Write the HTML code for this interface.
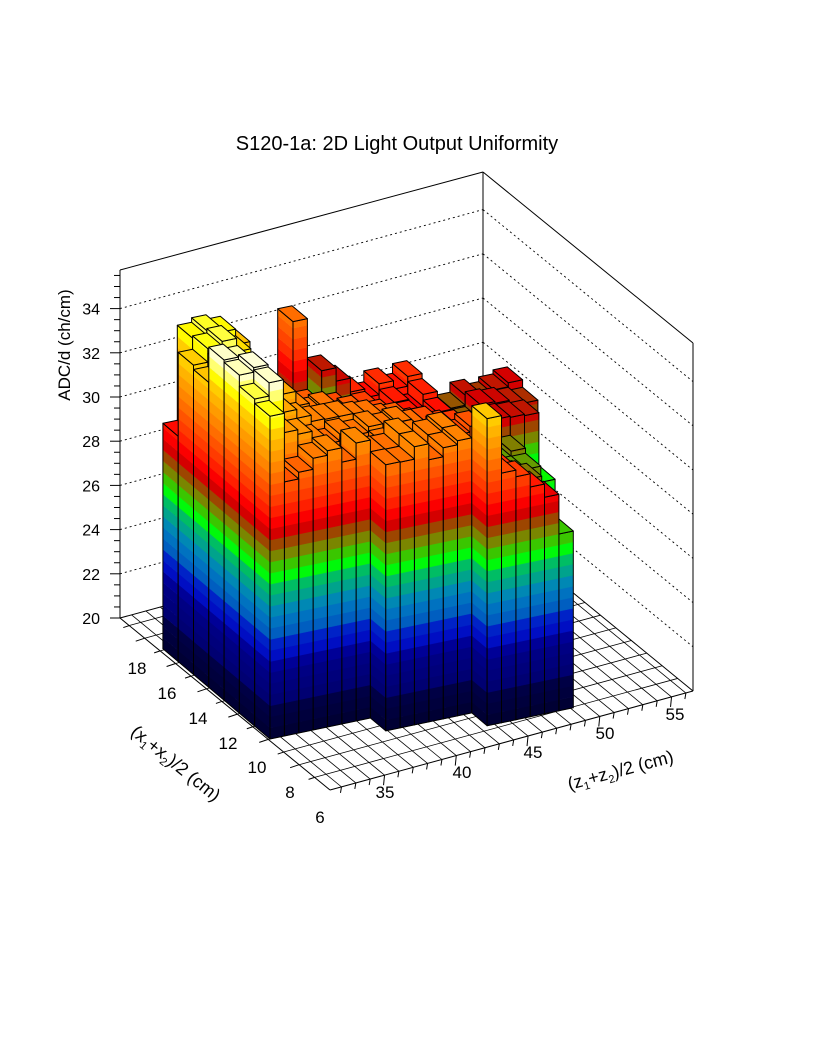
<!DOCTYPE html>
<html><head><meta charset="utf-8"><style>
html,body{margin:0;padding:0;background:#fff;}
svg{display:block;}
text{font-family:"Liberation Sans",sans-serif;fill:#000;}
</style></head><body>
<svg id="s" width="816" height="1056" viewBox="0 0 816 1056" xmlns="http://www.w3.org/2000/svg">
<rect width="816" height="1056" fill="#fff"/>
<g id="floor"></g>
<g id="walls"></g>
<g id="bars"></g>
<g id="axes"></g>
<text x="397" y="150" font-size="20" text-anchor="middle">S120-1a: 2D Light Output Uniformity</text>
<text x="0" y="0" font-size="17" text-anchor="middle" transform="translate(70,345) rotate(-90)">ADC/d (ch/cm)</text>
<text x="0" y="0" font-size="18" text-anchor="middle" transform="translate(172,768) rotate(39)">(x<tspan font-size="11" dy="4">1</tspan><tspan dy="-4">+x</tspan><tspan font-size="11" dy="4">2</tspan><tspan dy="-4">)/2 (cm)</tspan></text>
<text x="0" y="0" font-size="18" text-anchor="middle" transform="translate(622,776) rotate(-15)">(z<tspan font-size="11" dy="4">1</tspan><tspan dy="-4">+z</tspan><tspan font-size="11" dy="4">2</tspan><tspan dy="-4">)/2 (cm)</tspan></text>
</svg>
<script>
(function(){
const NS="http://www.w3.org/2000/svg";
function el(g,tag,attrs){const e=document.createElementNS(NS,tag);for(const k in attrs)e.setAttribute(k,attrs[k]);g.appendChild(e);return e;}
function Pf(z,x){return [330+(z-31.2)*14.35-(x-6)*15.44, 790-(z-31.2)*3.91-(x-6)*12.65];}
const fl=document.getElementById('floor');
for(let z=32;z<=56;z++){const a=Pf(z,6),b=Pf(z,19.6);el(fl,'line',{x1:a[0],y1:a[1],x2:b[0],y2:b[1],stroke:'#000','stroke-width':0.8});}
for(let x=7;x<=19;x++){const a=Pf(31.2,x),b=Pf(56.5,x);el(fl,'line',{x1:a[0],y1:a[1],x2:b[0],y2:b[1],stroke:'#000','stroke-width':0.8});}
const w=document.getElementById('walls');
const L=[120,618],B=[483,519],R=[693,691],F=[330,790];
const dz=22.1;
function ln(g,x1,y1,x2,y2,sw,dash){const a={x1:x1,y1:y1,x2:x2,y2:y2,stroke:'#000','stroke-width':sw||1};if(dash)a['stroke-dasharray']=dash;el(g,'line',a);}
ln(w,120,270,483,172,1);ln(w,483,172,693,343,1);
ln(w,483,172,483,519,1);ln(w,120,270,120,618,1);ln(w,693,343,693,691,1);
ln(w,120,618,483,519,1);ln(w,483,519,693,691,1);
for(let v=22;v<=34;v+=2){const y=618-(v-20)*dz;ln(w,120,y,483,y-99,0.9,'2,3');ln(w,483,y-99,693,y+73,0.9,'2,3');}
const ax=document.getElementById('axes');
for(let v=20;v<=35.5;v+=0.5){const y=618-(v-20)*dz;const maj=Math.abs(v-Math.round(v/2)*2)<1e-6;ln(ax,maj?110:114,y,120,y,1);}
for(let v=20;v<=34;v+=2){const y=618-(v-20)*dz;const t=el(ax,'text',{x:100,y:y+6,'font-size':16,'text-anchor':'end'});t.textContent=v;}
ln(ax,F[0],F[1],R[0],R[1],1);ln(ax,L[0],L[1],F[0],F[1],1);
for(let z=32;z<=56;z++){const p=Pf(z,6);const m=(z%5==0);ln(ax,p[0],p[1],p[0]-1,p[1]+(m?10:6),1);}
for(let x=7;x<=19;x++){const p=Pf(31.2,x);const m=(x%2==0);ln(ax,p[0],p[1],p[0]-(m?9:6),p[1]+(m?3:2),1);}
const zl=[[35,385,798],[40,462,778],[45,533,758],[50,605,739],[55,675,720]];
zl.forEach(a=>{const t=el(ax,'text',{x:a[1],y:a[2],'font-size':17,'text-anchor':'middle'});t.textContent=a[0];});
const xl=[[18,137,674],[16,167,699],[14,198,724],[12,228,749],[10,257,773],[8,290,798],[6,320,823]];
xl.forEach(a=>{const t=el(ax,'text',{x:a[1],y:a[2],'font-size':17,'text-anchor':'middle'});t.textContent=a[0];});

const stops=[[0,'#000030'],[1.4,'#000048'],[1.6,'#000070'],[3.2,'#00008a'],[3.4,'#0000c0'],[4.4,'#0028c8'],[4.6,'#0058c0'],[5.6,'#0080c0'],[6.2,'#00a090'],[6.8,'#00c060'],[7.3,'#00ff00'],[7.8,'#40c000'],[8.3,'#808000'],[8.8,'#a04000'],[9.2,'#d00000'],[9.8,'#ff0000'],[10.5,'#ff3000'],[11.2,'#ff5000'],[11.8,'#ff7000'],[12.5,'#ff9000'],[13.2,'#ffb000'],[13.8,'#ffd000'],[14.3,'#ffff00'],[15,'#ffffb0'],[15.5,'#ffffff']];
function hx(c){return [parseInt(c.substr(1,2),16),parseInt(c.substr(3,2),16),parseInt(c.substr(5,2),16)];}
const st=stops.map(s=>[s[0],hx(s[1])]);
function pal(d){if(d<=st[0][0])return 'rgb('+st[0][1]+')';for(let i=1;i<st.length;i++){if(d<=st[i][0]){const a=st[i-1],b=st[i];const t=(d-a[0])/(b[0]-a[0]);return 'rgb('+[0,1,2].map(k=>Math.round(a[1][k]+(b[1][k]-a[1][k])*t)).join(',')+')';}}return 'rgb('+st[st.length-1][1]+')';}

function Pb(j,r,d){return [300.6+j*14.35-r*15.3, 764.8-j*3.0-r*12.9-d*dz];}
function rmin(j){return j<=6?2:(j<=12?1:0);}
function jmax(r){return r==0?18:Math.floor(19+0.7*(r-1));}
const Ltab=[
 [14.6,14.8,15.3,15.4,13.8,14.0,10.2],
 [11.5,15.4,15.5,15.2,14.4,14.6,14.5],
 [11.8,13.0,14.6,14.2,13.8,14.8,14.7],
 [12.3,12.8,13.2,13.6,13.5,14.2,14.5],
 [12.5,12.4,12.8,13.3,12.8,13.2,13.8]];
function cell(j,r){
 if(r<rmin(j)||j>jmax(r))return null;
 let coff=0,d;
 const n=0.45*Math.sin(j*12.9+r*7.3)+0.25*Math.sin(j*3.1+r*5.7);
 if(j<=4){d=Ltab[j][r-2];}
 else{
  d=12.2-0.09*(j-5)-0.13*r+n;
  if(j<=12&&r>=3&&r<=7)coff=0.6;
  if(r<=2&&j<=12)d=12.2+0.4*Math.sin(j*2.3);
  if(j>=14&&r<=2){d=[11.3,11.0,10.4,9.8,8.0,6.2][j-14]-(r*0.2);}
  if(j==13&&r==0)d=13.9;
  if(j>=17&&r>=2)d=8.6+0.3*Math.sin(j+r);
  if(j==jmax(r)&&r>=2&&r<=5)d=7.6;
  if(j>=20&&r>=6)d=9.3+0.2*Math.sin(j*r);
  if(j==19&&r==1)d=6.2;
  if(j==8&&r==8){d=14.3;coff=-2.3;}
  if(j==10&&r==8){d=11.8;coff=-2.5;}
  if(j==11&&r==8){d=11.2;coff=-1.8;}
 }
 return {d:d,c:coff};
}
const bg=document.getElementById('bars');
function poly(pts,fill,stroke){const a={points:pts.map(p=>p[0].toFixed(1)+','+p[1].toFixed(1)).join(' '),fill:fill};if(stroke){a.stroke='#000';a['stroke-width']=1;a['stroke-linejoin']='round';}else{a.stroke=fill;a['stroke-width']=0.4;}el(bg,'polygon',a);}
function vface(j1,r1,j2,r2,D,c){
 for(let d0=0;d0<D;d0+=0.5){const d1=Math.min(d0+0.5,D);poly([Pb(j1,r1,d0),Pb(j2,r2,d0),Pb(j2,r2,d1),Pb(j1,r1,d1)],pal((d0+d1)/2+(d1>D-3?c:0)),false);}
 poly([Pb(j1,r1,0),Pb(j2,r2,0),Pb(j2,r2,D),Pb(j1,r1,D)],'none',true);
}
for(let r=8;r>=0;r--){
 for(let j=24;j>=0;j--){
  const c=cell(j,r);if(!c)continue;
  const D=c.d;
  vface(j,r,j,r+1,D,c.c);
  vface(j,r,j+1,r,D,c.c);
  poly([Pb(j,r,D),Pb(j+1,r,D),Pb(j+1,r+1,D),Pb(j,r+1,D)],pal(D-0.25+c.c),true);
 }
}
})();
</script>
</body></html>
